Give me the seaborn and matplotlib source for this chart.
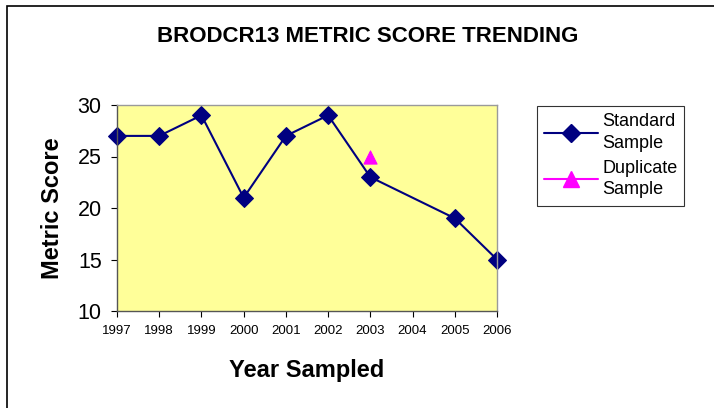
import matplotlib
matplotlib.use("Agg")
import matplotlib.pyplot as plt
import seaborn as sns
import pandas as pd
from matplotlib.lines import Line2D
from matplotlib.patches import Rectangle

years = ["1997", "1998", "1999", "2000", "2001", "2002", "2003", "2004", "2005", "2006"]
std_years = ["1997", "1998", "1999", "2000", "2001", "2002", "2003", "2005", "2006"]
std_scores = [27, 27, 29, 21, 27, 29, 23, 19, 15]
dup_years = ["2003"]
dup_scores = [25]
title = "BRODCR13 METRIC SCORE TRENDING"

sns.set_style("white")
plt.rcParams["font.family"] = ["Liberation Sans", "DejaVu Sans"]
plt.rcParams["text.color"] = "black"
plt.rcParams["axes.labelcolor"] = "black"
plt.rcParams["xtick.color"] = "black"
plt.rcParams["ytick.color"] = "black"

pos = {y: i for i, y in enumerate(years)}
std_df = pd.DataFrame({"x": [pos[y] for y in std_years], "score": std_scores})
dup_df = pd.DataFrame({"x": [pos[y] for y in dup_years], "score": dup_scores})

fig = plt.figure(figsize=(7.14, 4.08), dpi=100)
fig.patches.append(Rectangle((7 / 714, -0.1), 1.2, 1.1 - 6 / 408, transform=fig.transFigure,
                             fill=False, edgecolor="black", linewidth=1.2))
ax = fig.add_axes([117 / 714, 1 - 311 / 408, 380 / 714, 206 / 408])
ax.set_facecolor("#FFFF99")

sns.lineplot(data=std_df, x="x", y="score", ax=ax, color="#000080", marker="D",
             markersize=9, markeredgecolor="#000080", linewidth=1.5, clip_on=False)
sns.scatterplot(data=dup_df, x="x", y="score", ax=ax, color="#FF00FF", marker="^",
                s=90, edgecolor="#FF00FF", zorder=5)

ax.set_xlim(0, len(years) - 1)
ax.set_ylim(10, 30)
ax.set_yticks([10, 15, 20, 25, 30])
ax.set_xticks(range(len(years)))
ax.set_xticklabels(years, fontsize=9.5)
ax.tick_params(axis="y", labelsize=15.5, length=4, left=True, pad=7)
ax.tick_params(axis="x", length=4, bottom=True, pad=6)
for s in ["top", "right"]:
    ax.spines[s].set_color("#9a9a9a")
    ax.spines[s].set_linewidth(1)
for s in ["left", "bottom"]:
    ax.spines[s].set_color("#555555")
    ax.spines[s].set_linewidth(1)

ax.set_xlabel("Year Sampled", fontsize=17, fontweight="bold", labelpad=16)
ax.set_ylabel("Metric Score", fontsize=17, fontweight="bold", labelpad=10)
fig.text(368 / 714, 1 - 36 / 408, title, ha="center", va="center", fontsize=16, fontweight="bold")

handles = [
    Line2D([0], [0], color="#000080", marker="D", markersize=9, linewidth=1.5),
    Line2D([0], [0], color="#FF00FF", marker="^", markersize=11, linewidth=1.5),
]
leg = fig.legend(handles, ["Standard\nSample", "Duplicate\nSample"], loc="upper left",
                 bbox_to_anchor=(537 / 714, 1 - 106 / 408), fontsize=13, frameon=True,
                 fancybox=False, edgecolor="black", handlelength=3.0, handletextpad=0.2,
                 borderpad=0.4, labelspacing=0.45, borderaxespad=0)
for t in leg.get_texts():
    t.set_linespacing(1.35)
leg.get_frame().set_linewidth(0.8)

fig.savefig("out.png", dpi=100)
